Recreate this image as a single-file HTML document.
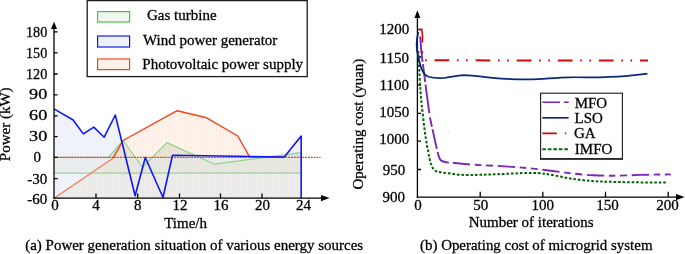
<!DOCTYPE html>
<html><head><meta charset="utf-8"><title>Figure</title>
<style>
html,body{margin:0;padding:0;background:#fff;}
svg{display:block;font-family:"Liberation Serif","Times New Roman",serif;font-size:15px;fill:#000;}
text{stroke:#000;stroke-width:0.28px;}
</style></head>
<body>
<svg width="685" height="254" viewBox="0 0 685 254">
<defs>
<pattern id="vh" width="3.2" height="4" patternUnits="userSpaceOnUse"><rect x="0" y="0" width="1.2" height="4" fill="#fff" fill-opacity="0.45"/></pattern>
<pattern id="dh" width="3" height="3" patternUnits="userSpaceOnUse" patternTransform="rotate(45)"><rect x="0" y="0" width="1" height="3" fill="#fff" fill-opacity="0.22"/></pattern>
<clipPath id="above"><rect x="50" y="0" width="260" height="157.4"/></clipPath>
<clipPath id="below"><rect x="50" y="157.4" width="260" height="45"/></clipPath>
</defs>
<rect width="685" height="254" fill="#fff"/>

<!-- ===== LEFT CHART ===== -->
<g id="left">
<!-- fills -->
<polygon points="54.4,109.1 73.2,120 83.3,133.9 93.8,127.1 104.2,137.2 115.3,115 135.1,195.7 145.3,157.5 163,197.5 172.5,155.2 284.3,157 301.2,136 301.2,198 54.4,198" fill="#eef1f9"/>
<polygon points="54.4,109.1 73.2,120 83.3,133.9 93.8,127.1 104.2,137.2 115.3,115 135.1,195.7 145.3,157.5 163,197.5 172.5,155.2 284.3,157 301.2,136 301.2,198 54.4,198" fill="url(#dh)"/>
<polygon points="54.4,198 113,158.2 123,140.5 177.1,110.7 206.7,117.8 237.8,136 249.6,156.8 301.2,157.4 301.2,198" fill="#fdeee3" clip-path="url(#above)"/>
<polygon points="54.4,198 113,158.2 123,140.5 177.1,110.7 206.7,117.8 237.8,136 249.6,156.8 301.2,157.4 301.2,198" fill="#eceae8" clip-path="url(#below)"/>
<polygon points="54.4,198 113,158.2 123,140.5 177.1,110.7 206.7,117.8 237.8,136 249.6,156.8 301.2,157.4 301.2,198" fill="url(#vh)" clip-path="url(#above)"/>
<polygon points="54.4,198 113,158.2 123,140.5 177.1,110.7 206.7,117.8 237.8,136 249.6,156.8 301.2,157.4 301.2,198" fill="url(#vh)" fill-opacity="0.35" clip-path="url(#below)"/>
<polygon points="54.4,157.3 108.3,157.3 123.3,140.5 142.5,167.5 166.8,142.6 214.6,164.2 300.8,152.6 301.2,173.1 54.4,173.1" fill="#7a905a" fill-opacity="0.15" clip-path="url(#above)"/>
<polygon points="54.4,157.3 108.3,157.3 123.3,140.5 142.5,167.5 166.8,142.6 214.6,164.2 300.8,152.6 301.2,173.1 54.4,173.1" fill="#96aa6e" fill-opacity="0.07" clip-path="url(#below)"/>
<!-- green lines -->
<line x1="54.4" y1="173.1" x2="301.2" y2="173.1" stroke="#9ad696" stroke-width="1.3"/>
<polyline points="54.4,157.3 108.3,157.3 123.3,140.5 142.5,167.5 166.8,142.6 214.6,164.2 300.8,152.6" fill="none" stroke="#8fd48c" stroke-width="1.2" stroke-linejoin="round"/>
<!-- red line -->
<polyline points="54.4,198 113,158.2" fill="none" stroke="#f27a5c" stroke-width="1.3"/>
<polyline points="113,158.2 123,140.5 177.1,110.7 206.7,117.8 237.8,136 249.6,156.8 284,157.2" fill="none" stroke="#f4421a" stroke-width="1.4" stroke-linejoin="round"/>
<!-- zero dotted -->
<line x1="54.4" y1="157.4" x2="320.5" y2="157.4" stroke="#f03c14" stroke-width="1.1" stroke-dasharray="1.9 0.95"/>
<!-- blue line -->
<polyline points="54.4,109.1 73.2,120 83.3,133.9 93.8,127.1 104.2,137.2 115.3,115 135.1,195.7 145.3,157.5 163,197.5 172.5,155.2 284.3,157 301.2,136 301.2,198" fill="none" stroke="#1018f0" stroke-width="1.6" stroke-linejoin="round"/>
<!-- axes -->
<g stroke="#000" stroke-width="1.3" fill="none">
<line x1="54" y1="198.8" x2="54" y2="27"/>
<line x1="53.4" y1="198.1" x2="322" y2="198.1"/>
<path d="M54,31.9h3.6M54,52.9h3.6M54,74h3.6M54,94.8h3.6M54,115.8h3.6M54,136.6h3.6M54,157.4h3.6M54,178.7h3.6"/>
<path d="M96,198v-4.5M137.7,198v-4.5M179.5,198v-4.5M220.5,198v-4.5M262,198v-4.5"/>
</g>
<polygon points="54,21.8 51,29 57,29" fill="#000"/>
<polygon points="329.5,198.1 321,195 321,201.2" fill="#000"/>
<!-- y labels -->
<g text-anchor="end">
<text x="47.3" y="36.6" textLength="21.3" lengthAdjust="spacingAndGlyphs">180</text>
<text x="47.3" y="57.6" textLength="21.3" lengthAdjust="spacingAndGlyphs">150</text>
<text x="47.3" y="78.7" textLength="21.3" lengthAdjust="spacingAndGlyphs">120</text>
<text x="47.3" y="98.9" textLength="18.2" lengthAdjust="spacingAndGlyphs">90</text>
<text x="47.3" y="119.8" textLength="18.2" lengthAdjust="spacingAndGlyphs">60</text>
<text x="47.3" y="140.6" textLength="18.2" lengthAdjust="spacingAndGlyphs">30</text>
<text x="41" y="161.8">0</text>
<text x="47.3" y="183.9">-30</text>
<text x="47.3" y="203.8">-60</text>
</g>
<g text-anchor="middle">
<text x="55" y="210.3">0</text>
<text x="96" y="210.3">4</text>
<text x="137.7" y="210.3">8</text>
<text x="180" y="210.3">12</text>
<text x="221" y="210.3">16</text>
<text x="262.5" y="210.3">20</text>
<text x="303.5" y="210.3">24</text>
<text x="185.6" y="228.2">Time/h</text>
</g>
<text transform="translate(10.3,124.3) rotate(-90)" text-anchor="middle">Power (kW)</text>
<text x="25.2" y="249.9" textLength="338" lengthAdjust="spacingAndGlyphs">(a) Power generation situation of various energy sources</text>
<!-- legend -->
<rect x="87.2" y="0.6" width="220" height="76" fill="#fff" stroke="#1a1a1a" stroke-width="1.3"/>
<rect x="97.6" y="11.6" width="32" height="10.4" fill="#f1f6ee" stroke="#3ccc3c" stroke-width="1.2"/>
<rect x="97.6" y="36" width="32" height="11" fill="#eef1f9" stroke="#1018f0" stroke-width="1.2"/>
<rect x="97.6" y="59" width="32" height="10.6" fill="#fdefe5" stroke="#f4421a" stroke-width="1.2"/>
<rect x="98.2" y="36.6" width="30.8" height="9.8" fill="url(#dh)"/>
<rect x="98.2" y="59.6" width="30.8" height="9.4" fill="url(#vh)"/>
<text x="147" y="19.6">Gas turbine</text>
<text x="143" y="44.8">Wind power generator</text>
<text x="142.3" y="68.7">Photovoltaic power supply</text>
</g>

<!-- ===== RIGHT CHART ===== -->
<g id="right">
<!-- axes -->
<g stroke="#000" stroke-width="1.3" fill="none">
<line x1="417.4" y1="197.8" x2="417.4" y2="16"/>
<line x1="416.8" y1="197.1" x2="677" y2="197.1"/>
<path d="M417.4,29.7h3.6M417.4,57h3.6M417.4,85.2h3.6M417.4,113.4h3.6M417.4,141.1h3.6M417.4,169.5h3.6"/>
<path d="M480.2,197.1v-5.4M542.8,197.1v-5.4M605.5,197.1v-5.4M668.2,197.1v-5.4"/>
</g>
<polygon points="417.4,10.2 414.4,18 420.4,18" fill="#000"/>
<polygon points="684.6,197.1 676,193.9 676,200.3" fill="#000"/>
<g text-anchor="middle">
<text x="394.3" y="33.6">1200</text>
<text x="394.3" y="63.3">1150</text>
<text x="394.3" y="90.2">1100</text>
<text x="394.3" y="116.8">1050</text>
<text x="394.3" y="143.6">1000</text>
<text x="394" y="175.4">950</text>
<text x="393.7" y="201.6">900</text>
<text x="418" y="210.1">0</text>
<text x="480.7" y="210">50</text>
<text x="542.7" y="210">100</text>
<text x="607.6" y="210.2">150</text>
<text x="667.4" y="210.2">200</text>
<text x="531.2" y="226.9">Number of iterations</text>
</g>
<text transform="translate(362.9,124.1) rotate(-90)" text-anchor="middle">Operating cost (yuan)</text>
<text x="420" y="249.8" textLength="232.5" lengthAdjust="spacingAndGlyphs">(b) Operating cost of microgrid system</text>
<!-- curves -->
<path d="M418.2,51 L419,60 C419.6,85 421,100 423.3,118.6 C425,135 427,146 428,150 C430,163 432,169.5 436.2,171.3 C440,172.6 444,173 448.8,173.3 C456,174.4 460,174.8 464.6,174.9 C480,175 490,174.5 501.5,174 C515,173.5 528,172.6 537.8,173 C544,173.4 548,174.2 553.6,175.2 C562,177 570,178.6 578,179.6 C586,180.6 593,181.2 600.6,181.5 C620,182.2 645,182.5 666.9,182.6" fill="none" stroke="#006400" stroke-width="2" stroke-dasharray="2.6 1.9"/>
<path d="M420.2,36.5 L421.2,50.0 L422.1,58.0 L422.6,61.8 M422.9,64.2 L425.2,82.0 M425.5,84.7 L426.2,90.0 L429.3,113.1 M429.9,117.4 L431.9,126.8 M432.5,129.2 L436.8,148.9" fill="none" stroke="#7a28b8" stroke-width="1.9"/>
<path d="M437.7,152 C438.7,157.5 439.5,159.8 441.7,161 C444,161.9 446,162.3 448.8,162.6" fill="none" stroke="#7a28b8" stroke-width="1.9"/>
<path d="M452.8,162.8 C458,163.3 464,164 470.9,164.5 C482,165.2 492,165.6 501.5,166.1 C512,166.8 523,167.6 533,168.6 C539,169.3 544,169.9 548.8,170.5 C559,171.9 568,173 578,174 C583,174.6 588,175 592.8,175.2 C600,175.6 607,175.8 613.3,175.7 C622,175.6 631,175.3 640,174.9 C650,174.6 660,174.5 670.8,174.4" fill="none" stroke="#7a28b8" stroke-width="1.9" stroke-dasharray="17.3 4.7 6.5 4.7 7 4.7"/>
<path d="M418.4,32 C416.3,40 416.3,50 418.3,56.3 C419.8,64 421.8,74.5 428.5,76.8 C434,78.4 439,78.3 444.3,78 C451,77.2 457,75.4 463.2,75.2 C472,75.2 481,76.6 490,77.6 C503,79 516,79.6 529.4,79.4 C543,79 556,77.6 568.8,77.3 C580,77.1 592,77.5 600,77.3 C612,77 624,76.3 632.2,75.4 C637,74.8 642,74.3 647.5,73.6" fill="none" stroke="#0a2878" stroke-width="1.7"/>
<path d="M418.5,29.4 L421.8,29.4 C422.6,34 422.7,38 422.4,42.5" fill="none" stroke="#cc0a0a" stroke-width="1.6"/>
<rect x="421.5" y="50.8" width="1.5" height="3" fill="#cc0a0a"/>
<rect x="425.1" y="59.3" width="1.6" height="2" fill="#cc0a0a"/>
<line x1="434.5" y1="60.3" x2="648" y2="60.6" stroke="#cc0a0a" stroke-width="2" stroke-dasharray="14.7 7.7 1.6 7.6 1.6 7.9"/>
<!-- legend -->
<rect x="540.6" y="93.2" width="81.8" height="65.6" fill="#fff" stroke="#1a1a1a" stroke-width="1.1"/>
<line x1="540" y1="159" x2="623" y2="159" stroke="#1a1a1a" stroke-width="1.4"/>
<path d="M542.3,102.2H560M563.9,102.2H568.6" stroke="#7a28b8" stroke-width="1.6" fill="none"/>
<line x1="542.3" y1="117.8" x2="568.6" y2="117.8" stroke="#0a2878" stroke-width="1.7"/>
<path d="M542.3,133.4H556.8M564.8,133.4H566.2" stroke="#cc0a0a" stroke-width="1.6" fill="none"/>
<line x1="542.3" y1="149.2" x2="568" y2="149.2" stroke="#006400" stroke-width="2" stroke-dasharray="3.6 1.9"/>
<text x="574.7" y="107.6">MFO</text>
<text x="574.5" y="123.2">LSO</text>
<text x="574" y="137.8">GA</text>
<text x="574.8" y="153.9">IMFO</text>
<rect x="448.4" y="130.9" width="0.8" height="0.7" fill="#999"/>
</g>
</svg>
</body></html>
